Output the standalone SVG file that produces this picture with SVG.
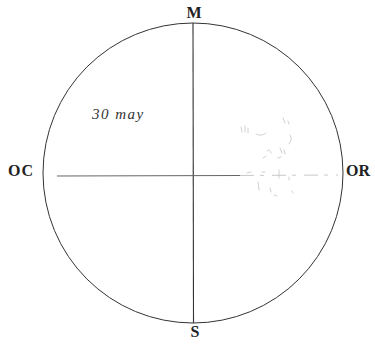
<svg xmlns="http://www.w3.org/2000/svg" width="375" height="345" viewBox="0 0 375 345">
<style>
.lbl{font-family:"Liberation Serif","DejaVu Serif",serif;font-weight:bold;fill:#222;font-size:16px}
.note{font-family:"Liberation Serif","DejaVu Serif",serif;font-style:italic;fill:#333;font-size:15px}
.ln{stroke:#333;fill:none}
.faint{stroke:#c4c4c4;fill:none;stroke-width:0.8;stroke-linecap:round}
</style>
<rect width="375" height="345" fill="#fff"/>
<g id="circle"><circle cx="193" cy="173" r="150" class="ln" stroke-width="1"/></g>
<g id="connectors">
<line x1="193" y1="23" x2="193.5" y2="323" class="ln" stroke-width="1.1"/>
<line x1="57" y1="176" x2="240" y2="175.5" stroke="#666" stroke-width="1"/>
<line x1="240" y1="175.5" x2="338" y2="175" stroke="#bbb" stroke-width="0.8" stroke-dasharray="14 6 4 8"/>
</g>
<g id="scribbles">
<path class="faint" d="M241 127 l1 5 M245 126 l0 6 M248 128 l0 5 M256 134 q5 3 10 -1 M283 118 l2 5 M288 121 l1 3 M290 135 q3 4 -1 9 M267 151 q3 -3 4 2 M280 148 l2 5 M284 150 l1 4 M263 158 l3 -2 M278 158 l3 -1 M247 173 l4 -1 M262 172 l3 0 M279 170 l0 8 M258 182 l1 8 M270 188 l1 4 M274 195 l3 1 M292 191 l1 2 M289 177 l0 3"/>
</g>
<g id="label-M"><text class="lbl" x="194" y="18" text-anchor="middle">M</text></g>
<g id="label-OC"><text class="lbl" x="8" y="176" letter-spacing="1">OC</text></g>
<g id="label-OR"><text class="lbl" x="346" y="176">OR</text></g>
<g id="label-S"><text class="lbl" x="195" y="337" text-anchor="middle" font-weight="normal">S</text></g>
<g id="note"><text class="note" x="92" y="119" letter-spacing="1.5">30 may</text></g>
</svg>
